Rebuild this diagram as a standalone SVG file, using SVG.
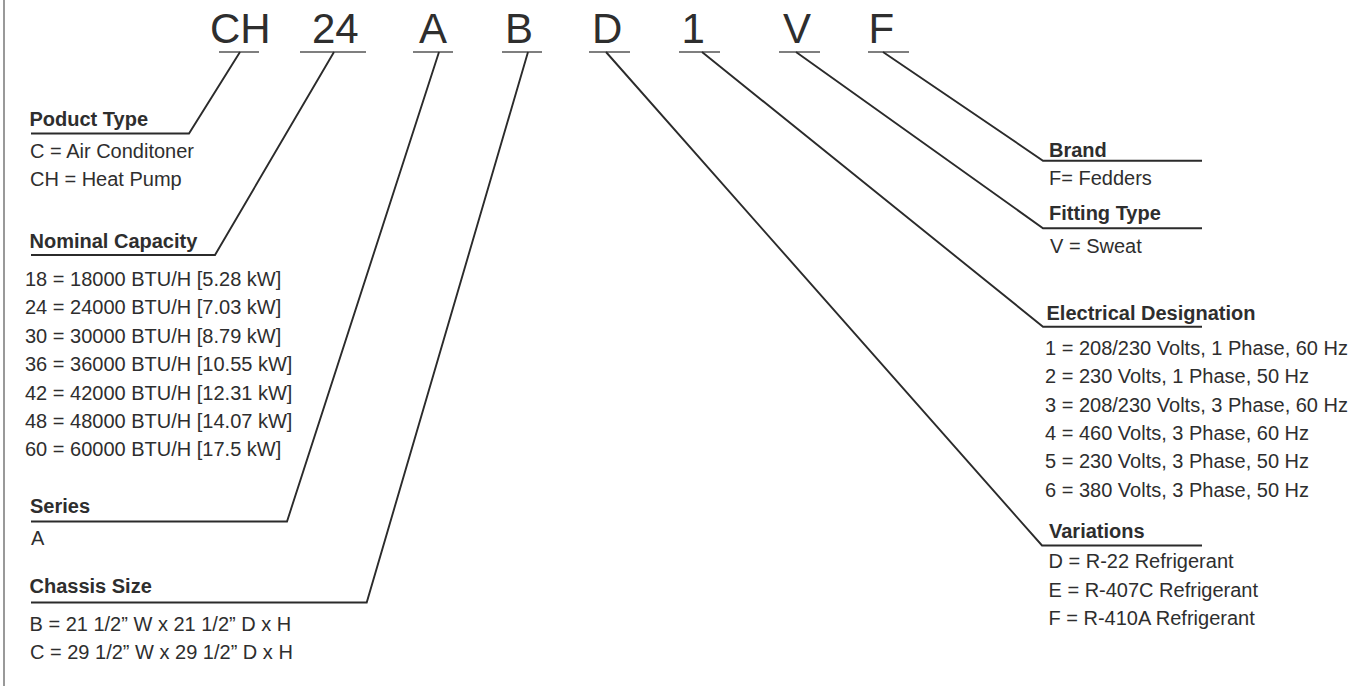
<svg xmlns="http://www.w3.org/2000/svg" width="1370" height="686" viewBox="0 0 1370 686">
<style>
text{font-family:"Liberation Sans",Arial,Helvetica,sans-serif;fill:#2e2e2e}
.code{font-size:42px}
.h{font-size:20px;font-weight:bold}
.t{font-size:20px}
.ln{fill:none;stroke:#2b2b2b;stroke-width:1.9;stroke-linejoin:miter}
.ul{stroke:#555;stroke-width:1.5}
</style>
<rect width="1370" height="686" fill="#fff"/>
<line x1="4" y1="0" x2="4" y2="686" stroke="#777" stroke-width="1.5"/>
<g id="code">
<text class="code" x="210" y="43">CH</text>
<text class="code" x="312" y="43">24</text>
<text class="code" x="419" y="43">A</text>
<text class="code" x="505" y="43">B</text>
<text class="code" x="592" y="43">D</text>
<text class="code" x="681.5" y="43">1</text>
<text class="code" x="783" y="43">V</text>
<text class="code" x="868.5" y="43">F</text>
</g>
<g id="connectors">
<g class="ul">
<line x1="219" y1="52" x2="259" y2="52"/>
<line x1="300" y1="52" x2="366" y2="52"/>
<line x1="413" y1="52" x2="453" y2="52"/>
<line x1="502" y1="52" x2="542" y2="52"/>
<line x1="589" y1="52" x2="630" y2="52"/>
<line x1="679" y1="52" x2="720" y2="52"/>
<line x1="779" y1="52" x2="820" y2="52"/>
<line x1="868" y1="52" x2="909" y2="52"/>
</g>
<polyline class="ln" points="240,52 189,133.5 31,133.5"/>
<polyline class="ln" points="334,52 215,255 31,255"/>
<polyline class="ln" points="439,52 287,521.5 31,521.5"/>
<polyline class="ln" points="528,52 366.7,602.5 31,602.5"/>
<polyline class="ln" points="606,52 1042,545.5 1202,545.5"/>
<polyline class="ln" points="702,52 1043,326.7 1202,326.7"/>
<polyline class="ln" points="796,52 1043,228.3 1202,228.3"/>
<polyline class="ln" points="883,52 1043,160.7 1202,160.7"/>
</g>
<g id="product-type">
<text class="h" x="29.5" y="126">Poduct Type</text>
<text class="t" x="30" y="158.3">C = Air Conditoner</text>
<text class="t" x="30" y="186">CH = Heat Pump</text>
</g>
<g id="nominal-capacity">
<text class="h" x="29.5" y="248">Nominal Capacity</text>
<text class="t" x="25" y="286">18 = 18000 BTU/H [5.28 kW]</text>
<text class="t" x="25" y="314.4">24 = 24000 BTU/H [7.03 kW]</text>
<text class="t" x="25" y="342.8">30 = 30000 BTU/H [8.79 kW]</text>
<text class="t" x="25" y="371.2">36 = 36000 BTU/H [10.55 kW]</text>
<text class="t" x="25" y="399.6">42 = 42000 BTU/H [12.31 kW]</text>
<text class="t" x="25" y="428">48 = 48000 BTU/H [14.07 kW]</text>
<text class="t" x="25" y="456.4">60 = 60000 BTU/H [17.5 kW]</text>
</g>
<g id="series">
<text class="h" x="30" y="513">Series</text>
<text class="t" x="31" y="545">A</text>
</g>
<g id="chassis-size">
<text class="h" x="29.5" y="593">Chassis Size</text>
<text class="t" x="29.5" y="631">B = 21 1/2” W x 21 1/2” D x H</text>
<text class="t" x="30" y="659">C = 29 1/2” W x 29 1/2” D x H</text>
</g>
<g id="brand">
<text class="h" x="1049" y="157">Brand</text>
<text class="t" x="1049" y="185">F= Fedders</text>
</g>
<g id="fitting-type">
<text class="h" x="1049" y="220">Fitting Type</text>
<text class="t" x="1050" y="253.3">V = Sweat</text>
</g>
<g id="electrical-designation">
<text class="h" x="1046.5" y="320">Electrical Designation</text>
<text class="t" x="1045" y="355">1 = 208/230 Volts, 1 Phase, 60 Hz</text>
<text class="t" x="1045" y="383.3">2 = 230 Volts, 1 Phase, 50 Hz</text>
<text class="t" x="1045" y="411.7">3 = 208/230 Volts, 3 Phase, 60 Hz</text>
<text class="t" x="1045" y="440">4 = 460 Volts, 3 Phase, 60 Hz</text>
<text class="t" x="1045" y="468.3">5 = 230 Volts, 3 Phase, 50 Hz</text>
<text class="t" x="1045" y="496.7">6 = 380 Volts, 3 Phase, 50 Hz</text>
</g>
<g id="variations">
<text class="h" x="1049" y="538">Variations</text>
<text class="t" x="1048.5" y="568">D = R-22 Refrigerant</text>
<text class="t" x="1048.5" y="596.5">E = R-407C Refrigerant</text>
<text class="t" x="1048.5" y="625">F = R-410A Refrigerant</text>
</g>
</svg>
